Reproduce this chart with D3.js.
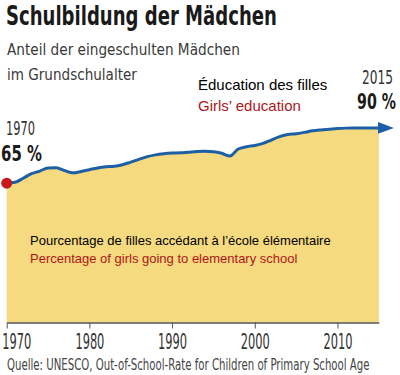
<!DOCTYPE html>
<html>
<head>
<meta charset="utf-8">
<script src="https://cdn.jsdelivr.net/npm/d3@7"></script>
<style>
  body { margin: 0; background: #fff; }
  svg { display: block; }
  .cond { font-family: "DejaVu Sans Condensed", "DejaVu Sans", sans-serif; }
  .arial { font-family: "Liberation Sans", Arial, sans-serif; }
</style>
</head>
<body>
<script>
var width = 400;
var height = 375;

// Anteil der eingeschulten Mädchen (%)
var years = [1970, 1971, 1972, 1973, 1974, 1975, 1976, 1977, 1978, 1979,
             1980, 1981, 1982, 1983, 1984, 1985, 1986, 1987, 1988, 1989,
             1990, 1991, 1992, 1993, 1994, 1995, 1996, 1997, 1998, 1999,
             2000, 2001, 2002, 2003, 2004, 2005, 2006, 2007, 2008, 2009,
             2010, 2011, 2012, 2013, 2014, 2015];
var values = [65.0, 65.4, 67.2, 69.2, 70.4, 71.8, 71.9, 70.6, 69.6, 70.2,
              71.0, 71.8, 72.3, 72.5, 73.2, 74.4, 75.6, 76.8, 77.6, 78.1,
              78.4, 78.5, 78.8, 79.1, 79.2, 79.0, 78.3, 77.1, 80.2, 81.2,
              81.8, 82.7, 84.2, 85.7, 86.7, 87.0, 87.6, 88.3, 88.7, 89.0,
              89.3, 89.5, 89.6, 89.6, 89.6, 89.6];
var tickYears = [1970, 1980, 1990, 2000, 2010];

var data = years.map(function (y, i) { return {year: y, value: values[i]}; });

var x = d3.scaleLinear().domain([1970, 2015]).range([6.7, 378.8]);
var y = d3.scaleLinear().domain([3, 90]).range([322.5, 127]);

var svg = d3.select('body').append('svg')
  .attr('width', width)
  .attr('height', height);

// schmale Schrift: Text horizontal auf Zielbreite stauchen
function squeeze(el, px, py, len) {
  var w = el.node().getComputedTextLength();
  var s = w > 0 ? len / w : 1;
  el.attr('x', 0).attr('y', 0)
    .attr('transform', 'translate(' + px + ',' + py + ') scale(' + s + ',1)');
}

// Fläche
svg.append('path')
  .datum(data)
  .attr('d', d3.area()
    .x(function (d) { return x(d.year); })
    .y0(y(3))
    .y1(function (d) { return y(d.value); })
    .curve(d3.curveMonotoneX))
  .style('fill', '#f5da80');

// Achse
var axis = svg.append('g')
  .attr('transform', 'translate(0,' + y(3) + ')')
  .call(d3.axisBottom(x).tickValues(tickYears).tickFormat(d3.format('d')).tickSize(6).tickSizeOuter(0));
axis.select('.domain').style('stroke', '#555').style('stroke-width', 1.4);
axis.selectAll('.tick line').style('stroke', '#555');
axis.selectAll('.tick text')
  .attr('class', 'cond')
  .attr('dy', null)
  .attr('text-anchor', 'start')
  .style('font-size', '21px')
  .style('fill', '#333')
  .each(function (d) {
    // erste Beschriftung bleibt im Bild
    var left = d === 1970 ? -5 : -14.5;
    squeeze(d3.select(this), left, 26, 29);
  });

// Linie mit Pfeil
var defs = svg.append('defs');
defs.append('marker')
  .attr('id', 'arrow')
  .attr('viewBox', '0 -6 16 12')
  .attr('refX', 1)
  .attr('refY', 0)
  .attr('markerWidth', 16)
  .attr('markerHeight', 12)
  .attr('markerUnits', 'userSpaceOnUse')
  .attr('orient', 'auto')
  .append('path')
  .attr('d', 'M0,-6L16,0L0,6Z')
  .style('fill', '#1d5fa6');

svg.append('path')
  .datum(data)
  .attr('d', d3.line()
    .x(function (d) { return x(d.year); })
    .y(function (d) { return y(d.value); })
    .curve(d3.curveMonotoneX))
  .style('fill', 'none')
  .style('stroke', '#1d5fa6')
  .style('stroke-width', 3)
  .attr('marker-end', 'url(#arrow)');

svg.append('circle')
  .attr('cx', x(data[0].year))
  .attr('cy', y(data[0].value))
  .attr('r', 5.5)
  .style('fill', '#c8161d');

// Texte
function txt(t, px, py, cls, size, color, weight, len) {
  var el = svg.append('text')
    .attr('x', px).attr('y', py)
    .attr('class', cls)
    .style('font-size', size + 'px')
    .style('fill', color)
    .style('font-weight', weight || 'normal')
    .text(t);
  if (len) squeeze(el, px, py, len);
  return el;
}

txt('Schulbildung der Mädchen', 6, 25, 'cond', 27, '#1a1a1a', 'bold', 271);
txt('Anteil der eingeschulten Mädchen', 7, 55, 'cond', 16, '#3a3a3a', 'normal', 233);
txt('im Grundschulalter', 7, 80, 'cond', 16, '#3a3a3a', 'normal', 130);

txt('Éducation des filles', 198, 90, 'arial', 15, '#000');
txt('Girls’ education', 198, 111, 'arial', 15, '#b0151a');

txt('2015', 362, 84, 'cond', 19, '#333', 'normal', 31);
txt('90 %', 357, 109, 'cond', 22, '#1a1a1a', 'bold', 39);
txt('1970', 6, 135, 'cond', 19, '#333', 'normal', 29);
txt('65 %', 1, 161, 'cond', 22, '#1a1a1a', 'bold', 41);

txt('Pourcentage de filles accédant à l’école élémentaire', 30, 245, 'arial', 13, '#000');
txt('Percentage of girls going to elementary school', 30, 263, 'arial', 13, '#b0151a');

txt('Quelle: UNESCO, Out-of-School-Rate for Children of Primary School Age', 7, 370, 'cond', 15, '#444', 'normal', 363);
</script>
</body>
</html>
